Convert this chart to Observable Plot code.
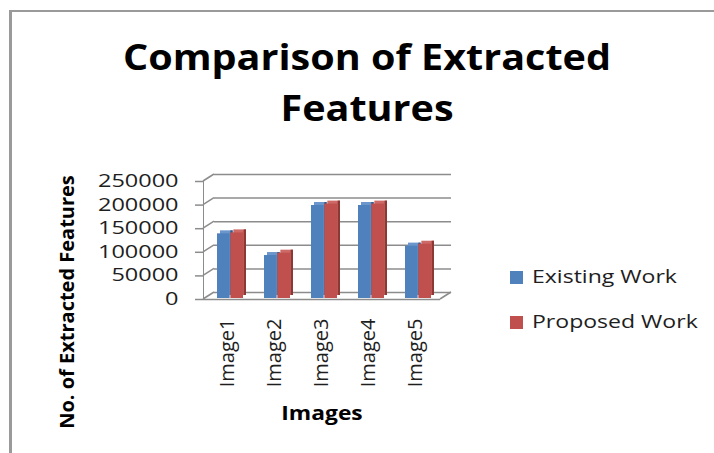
<!DOCTYPE html>
<html>
<head>
<meta charset="utf-8">
<script src="https://cdn.jsdelivr.net/npm/d3@7"></script>
<script src="https://cdn.jsdelivr.net/npm/@observablehq/plot@0.6"></script>
<style>
  html, body { margin: 0; padding: 0; background: #fff; }
  #wrap { position: relative; width: 714px; height: 453px; overflow: hidden; font-family: "Open Sans", sans-serif; }
  #border { position: absolute; left: 9px; top: 10px; width: 800px; height: 500px;
            border-left: 3px solid #9a9a9a; border-top: 2px solid #9a9a9a; }
  .t { position: absolute; white-space: nowrap; line-height: normal; color: #000; }
  #chart { position: absolute; left: 0; top: 0; }
  #chart svg text { fill: #1e1e1e; }
  .sw { position: absolute; width: 12.5px; height: 12.5px; }
</style>
</head>
<body>
<div id="wrap">
  <div id="border"></div>
  <div id="chart"></div>
</div>
<script>
// ---- data ----
const images = ["Image1", "Image2", "Image3", "Image4", "Image5"];
const existingWork = [137000, 91000, 197000, 197000, 111000];
const proposedWork = [139000, 96000, 200000, 200000, 115000];
const yTicks = [0, 50000, 100000, 150000, 200000, 250000];
const seriesNames = ["Existing Work", "Proposed Work"];
const seriesColors = ["#4F81BD", "#C0504D"];
const seriesTops = ["#6A96CC", "#CD6966"];
const seriesSides = ["#34598A", "#8E3835"];
const titleLines = ["Comparison of Extracted", "Features"];
const yLabel = "No. of Extracted Features";
const xLabel = "Images";

// ---- layout ----
const W = 714, H = 453;
const mL = 203, mR = 274, mT = 181, mB = 154;
const padIn = 0.437;
const step = (W - mL - mR) / images.length;
const half = step * (1 - padIn) / 2;
const depth = 3, ox = 3, oy = -1;

const rows = images.map((image, i) => ({ image, existing: existingWork[i], proposed: proposedWork[i] }));

function bar3d(key, color, top, side, left) {
  const ins = left ? { insetRight: half } : { insetLeft: half };
  const sideIns = left ? { insetRight: half, insetLeft: half - depth } : { insetLeft: 2 * half - depth };
  return [
    Plot.barY(rows, { x: "image", y: key, fill: top, dx: ox + depth, dy: oy - depth, ...ins }),
    Plot.barY(rows, { x: "image", y: key, fill: side, dx: ox + depth, dy: oy - depth, ...sideIns }),
    Plot.barY(rows, { x: "image", y: key, fill: color, dx: ox, dy: oy, ...ins })
  ];
}

const chart = Plot.plot({
  width: W, height: H,
  marginLeft: mL, marginRight: mR, marginTop: mT, marginBottom: mB,
  style: { fontFamily: "Open Sans", fontSize: "20px", color: "#8c8c8c", background: "transparent", overflow: "visible" },
  x: { domain: images, paddingInner: padIn, paddingOuter: padIn / 2, label: null, tickSize: 0, tickPadding: 19, tickRotate: -90 },
  y: { domain: [0, 250000], ticks: yTicks, tickFormat: d3.format("d"), label: null, tickSize: 8, tickPadding: 17, line: true },
  marks: [
    Plot.ruleY(yTicks, { stroke: "#8c8c8c", strokeWidth: 1.5, dx: 11, dy: -7 }),
    Plot.ruleY([0], { stroke: "#8c8c8c", strokeWidth: 1.5 }),
    ...bar3d("existing", seriesColors[0], seriesTops[0], seriesSides[0], true),
    ...bar3d("proposed", seriesColors[1], seriesTops[1], seriesSides[1], false)
  ]
});
document.getElementById("chart").appendChild(chart);

const svg = d3.select(chart);
// y tick labels: stretched horizontally like the reference
svg.selectAll('[aria-label^="y-axis"] text').each(function () {
  const t = d3.select(this);
  t.style("font-size", "17.4px");
  const tr = t.attr("transform");
  if (tr) {
    t.attr("transform", tr + " scale(1.35,1)");
  } else {
    const x = +t.attr("x") || 0, y = +t.attr("y") || 0;
    t.attr("x", null).attr("y", null).attr("transform", `translate(${x},${y}) scale(1.35,1)`);
  }
});
svg.selectAll('[aria-label^="x-axis"] text').style("font-size", "20px");
svg.selectAll('[aria-label^="y-axis"] path, [aria-label^="y-axis"] line').style("stroke-width", "1.5");

// 3D side wall and floor edges through the plot's scales
const ys = chart.scale("y");
const yPos = ys.apply ? ys.apply : d3.scaleLinear(ys.domain, ys.range);
const xr = chart.scale("x").range;
const g = svg.append("g").attr("stroke", "#8c8c8c").attr("stroke-width", 1.5);
yTicks.forEach(t => {
  g.append("line").attr("x1", xr[0]).attr("y1", yPos(t)).attr("x2", xr[0] + 11).attr("y2", yPos(t) - 7);
});
g.append("line").attr("x1", xr[1]).attr("y1", yPos(0)).attr("x2", xr[1] + 11).attr("y2", yPos(0) - 7);

// ---- texts ----
const wrap = document.getElementById("wrap");
function addText(txt, opts) {
  const d = document.createElement("div");
  d.className = "t";
  d.textContent = txt;
  Object.assign(d.style, opts);
  wrap.appendChild(d);
  return d;
}
// title (centered at x=367)
titleLines.forEach((line, i) => {
  addText(line, { left: "367px", top: (32.6 + i * 51.7) + "px", fontSize: "35px", fontWeight: "700",
    transform: "translateX(-50%) scaleX(1.13)", transformOrigin: "center" });
});
// y label
addText(yLabel, { left: "67px", top: "301.5px", fontSize: "20px", fontWeight: "700", lineHeight: "20px",
  transform: "translate(-50%,-50%) rotate(-90deg)" });
// x label
addText(xLabel, { left: "322px", top: "398.6px", fontSize: "20px", fontWeight: "700",
  transform: "translateX(-50%) scaleX(1.14)" });
// legend
seriesNames.forEach((name, i) => {
  const sw = document.createElement("div");
  sw.className = "sw";
  sw.style.left = "510px";
  sw.style.top = (271 + i * 45) + "px";
  sw.style.background = seriesColors[i];
  wrap.appendChild(sw);
  addText(name, { left: "532px", top: (264.3 + i * 45) + "px", fontSize: "18px", color: "#1e1e1e",
    transform: "scaleX(1.28)", transformOrigin: "left center" });
});
</script>
</body>
</html>
